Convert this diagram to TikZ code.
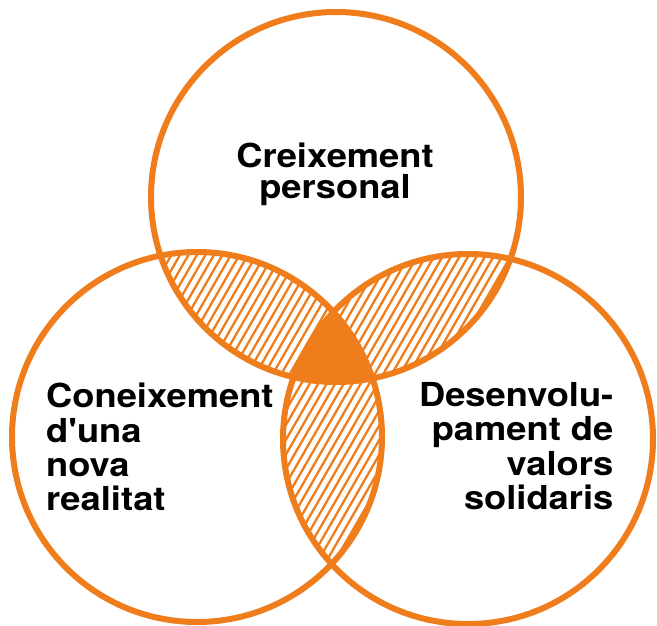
\documentclass[tikz,border=0pt]{standalone}
\usepackage{fontspec}
\newfontfamily\hv[FakeStretch=1.1]{TeX Gyre Heros}
\definecolor{vorange}{RGB}{240,125,28}
\begin{document}
\begin{tikzpicture}[x=1pt,y=-1pt,
  ring/.style={draw=vorange,line width=6pt},
  hatchline/.style={draw=vorange,line width=2.3pt},
  lbl/.style={inner sep=0pt,font=\hv\bfseries\fontsize{33}{34.3}\selectfont}]
\useasboundingbox (0,0) rectangle (657,626);
\fill[white] (0,0) rectangle (657,626);
\coordinate (T) at (336,197);
\coordinate (L) at (197,437);
\coordinate (R) at (468,439);
\def\rad{185}
% hatched pairwise intersections
\foreach \A/\B in {T/L,T/R,L/R}{
  \begin{scope}
    \clip (\A) circle[radius=\rad];
    \clip (\B) circle[radius=\rad];
    \foreach \k in {-50,...,80}{
      \draw[hatchline] (\k*8.5,626) -- ++(361,-626);
    }
  \end{scope}
}
% solid triple intersection
\begin{scope}
  \clip (T) circle[radius=\rad];
  \clip (L) circle[radius=\rad];
  \fill[vorange] (R) circle[radius=\rad];
\end{scope}
\draw[ring] (T) circle[radius=\rad];
\draw[ring] (L) circle[radius=\rad];
\draw[ring] (R) circle[radius=\rad];
\node[lbl,align=center,anchor=base,font=\hv\bfseries\fontsize{33}{31}\selectfont] (top) at (335,198.3) {Creixement\\personal};
\node[lbl,align=left,anchor=base west] (left) at (46,510.7) {Coneixement\\d'una\\nova\\realitat};
\node[lbl,align=right,anchor=base east] (right) at (613.5,509.3) {Desenvolu-\\pament de\\valors\\solidaris};
\end{tikzpicture}
\end{document}
